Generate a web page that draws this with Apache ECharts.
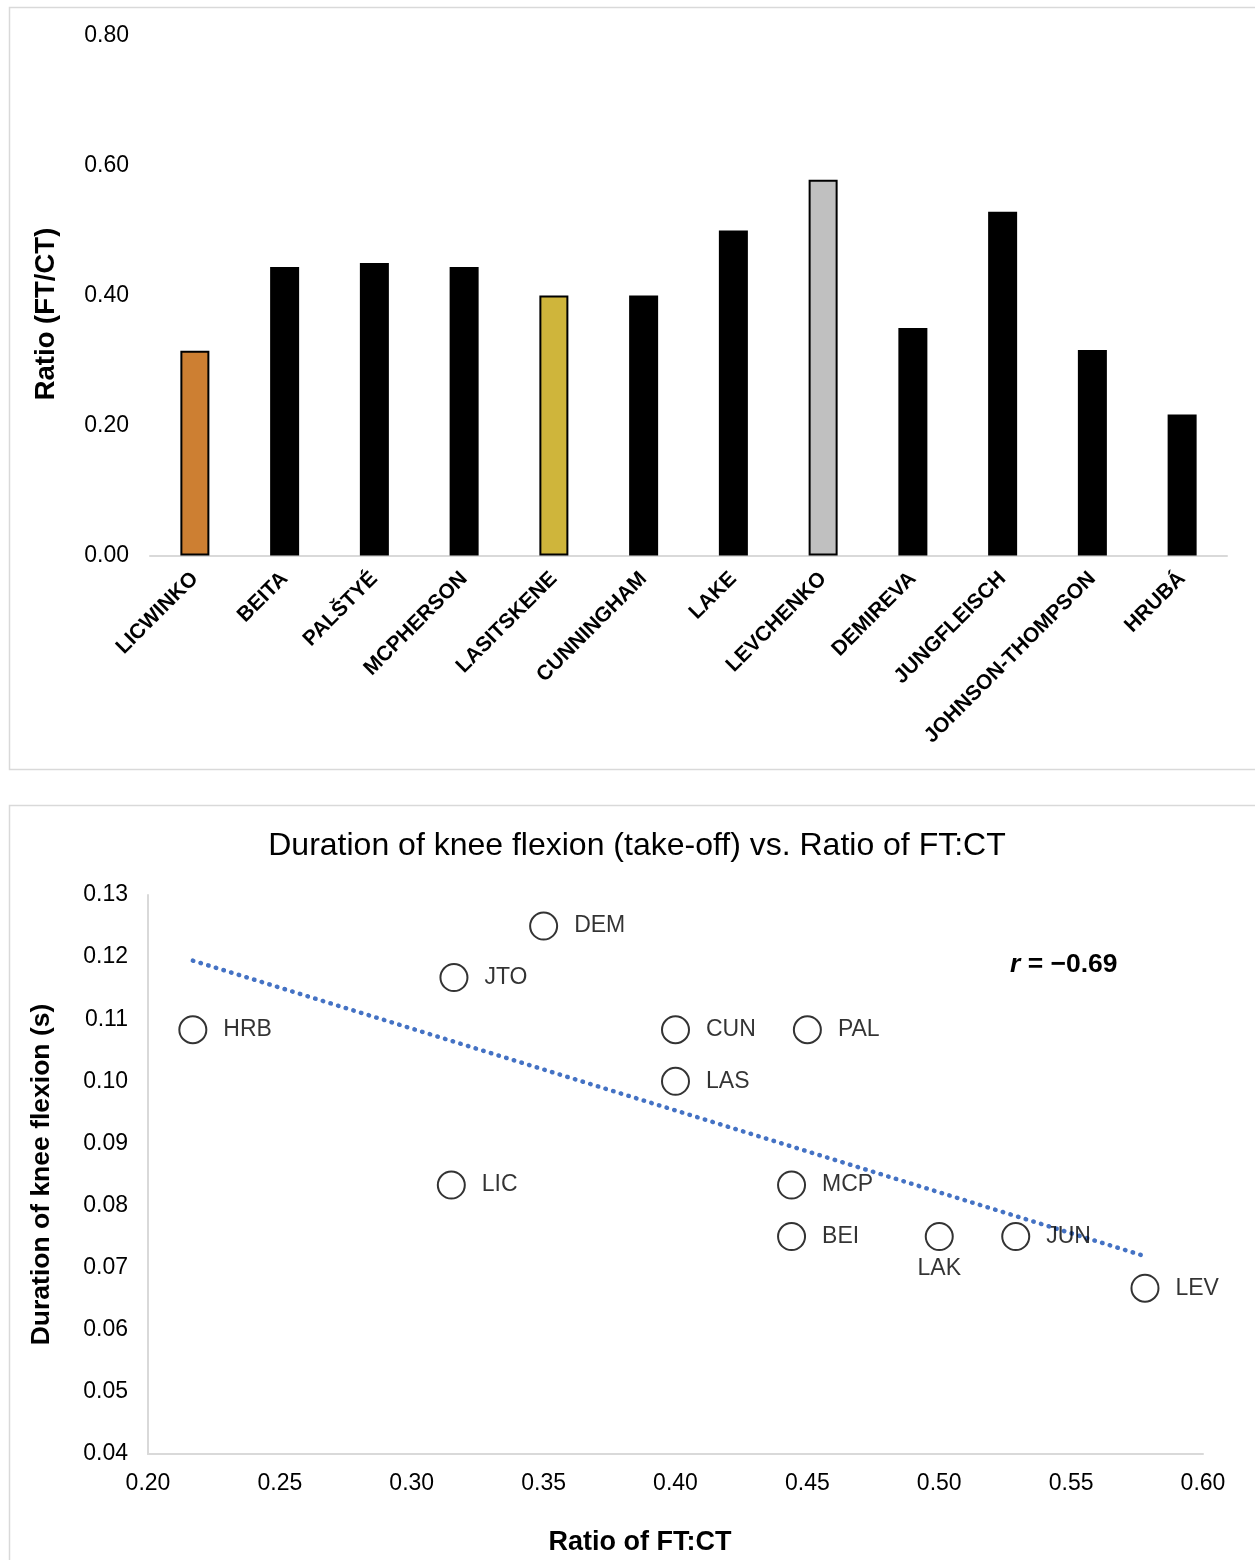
<!DOCTYPE html>
<html>
<head>
<meta charset="utf-8">
<script src="https://cdn.jsdelivr.net/npm/echarts@6/dist/echarts.min.js"></script>
<style>
  html, body { margin: 0; padding: 0; background: #fff; }
  #chart { width: 1255px; height: 1560px; }
</style>
</head>
<body>
<div id="chart"></div>
<script>
// Athletes (bar chart order) and their short codes (scatter labels)
var athletes = ['LICWINKO', 'BEITA', 'PALŠTYÉ', 'MCPHERSON', 'LASITSKENE', 'CUNNINGHAM',
                'LAKE', 'LEVCHENKO', 'DEMIREVA', 'JUNGFLEISCH', 'JOHNSON-THOMPSON', 'HRUBÁ'];
var codes = ['LIC', 'BEI', 'PAL', 'MCP', 'LAS', 'CUN', 'LAK', 'LEV', 'DEM', 'JUN', 'JTO', 'HRB'];

// Ratio of flight time to contact time (FT/CT)
var ratioFtCt = [0.315, 0.444, 0.450, 0.444, 0.400, 0.400, 0.500, 0.578, 0.350, 0.529, 0.316, 0.217];

// Duration of knee flexion during take-off (s)
var kneeFlexion = [0.0833, 0.0750, 0.1083, 0.0833, 0.1000, 0.1083, 0.0750, 0.0667, 0.1250, 0.0750, 0.1167, 0.1083];

// Medal bar colours (bronze, gold, silver); others black
var barColors = {
  'LICWINKO': '#CD7F32',
  'LASITSKENE': '#CFB53B',
  'LEVCHENKO': '#C0C0C0'
};

// Axis ticks
var ratioTicks = { min: 0, max: 0.8, interval: 0.2 };
var scatterX = { min: 0.2, max: 0.6, interval: 0.05 };
var scatterY = { min: 0.04, max: 0.13, interval: 0.01 };

// Least-squares trend line across the observed ratio range
function linearFit(xs, ys) {
  var n = xs.length, mx = 0, my = 0;
  for (var i = 0; i < n; i++) { mx += xs[i]; my += ys[i]; }
  mx /= n; my /= n;
  var sxy = 0, sxx = 0;
  for (var j = 0; j < n; j++) {
    sxy += (xs[j] - mx) * (ys[j] - my);
    sxx += (xs[j] - mx) * (xs[j] - mx);
  }
  var slope = sxy / sxx;
  return { slope: slope, intercept: my - slope * mx };
}
var fit = linearFit(ratioFtCt, kneeFlexion);
var xMin = Math.min.apply(null, ratioFtCt), xMax = Math.max.apply(null, ratioFtCt);
var trend = [[xMin, fit.intercept + fit.slope * xMin], [xMax, fit.intercept + fit.slope * xMax]];

var FONT = '"Liberation Sans", Arial, sans-serif';
var AXIS_GREY = '#d9d9d9';

var barData = athletes.map(function (name, i) {
  var c = barColors[name] || '#000000';
  return {
    value: ratioFtCt[i],
    itemStyle: { color: c, borderColor: '#000', borderWidth: 2 }
  };
});

var scatterData = codes.map(function (code, i) {
  var d = { value: [ratioFtCt[i], kneeFlexion[i]], name: code };
  if (code === 'LAK') {
    d.label = { position: 'bottom', distance: 6 };
  }
  return d;
});

var chart = echarts.init(document.getElementById('chart'), null, { renderer: 'canvas' });

chart.setOption({
  animation: false,
  backgroundColor: '#fff',
  textStyle: { fontFamily: FONT },
  title: [
    {
      text: 'Duration of knee flexion (take-off) vs. Ratio of FT:CT',
      left: 632, top: 825, textAlign: 'center',
      textStyle: { fontFamily: FONT, fontSize: 32, fontWeight: 'normal', color: '#000' }
    },
    {
      text: '{i|r} = −0.69',
      left: 1005, top: 946,
      textStyle: {
        fontFamily: FONT, fontSize: 26.5, fontWeight: 'bold', color: '#000',
        rich: { i: { fontFamily: FONT, fontSize: 26.5, fontWeight: 'bold', fontStyle: 'italic', color: '#000' } }
      }
    }
  ],
  graphic: [
    { type: 'rect', shape: { x: 9.5, y: 7.5, width: 1250, height: 762 },
      style: { fill: 'none', stroke: AXIS_GREY, lineWidth: 1.5 }, silent: true, z: -1 },
    { type: 'rect', shape: { x: 9.5, y: 805.5, width: 1250, height: 760 },
      style: { fill: 'none', stroke: AXIS_GREY, lineWidth: 1.5 }, silent: true, z: -1 },
    // Bar chart value-axis title
    { type: 'text', x: 46, y: 314, rotation: Math.PI / 2, silent: true,
      style: { text: 'Ratio (FT/CT)', fontFamily: FONT, fontSize: 27.5, fontWeight: 'bold',
               fill: '#000', align: 'center', verticalAlign: 'middle' } },
    // Scatter x-axis title
    { type: 'text', x: 640, y: 1543, silent: true,
      style: { text: 'Ratio of FT:CT', fontFamily: FONT, fontSize: 27, fontWeight: 'bold',
               fill: '#000', align: 'center', verticalAlign: 'middle' } }
  ],
  grid: [
    { left: 150, top: 35.5, width: 1077, height: 520 },
    { left: 148, top: 895, width: 1055, height: 559 }
  ],
  xAxis: [
    {
      gridIndex: 0, type: 'category', data: athletes,
      axisLine: { lineStyle: { color: AXIS_GREY, width: 2 } },
      axisTick: { show: false },
      axisLabel: {
        rotate: 45, margin: 20, interval: 0,
        fontFamily: FONT, fontSize: 21, fontWeight: 'bold', color: '#000'
      }
    },
    {
      gridIndex: 1, type: 'value',
      min: scatterX.min, max: scatterX.max, interval: scatterX.interval,
      axisLine: { lineStyle: { color: AXIS_GREY, width: 2 } },
      axisTick: { show: false },
      splitLine: { show: false },
      axisLabel: {
        margin: 18, fontFamily: FONT, fontSize: 23, color: '#000',
        formatter: function (v) { return v.toFixed(2); }
      }
    }
  ],
  yAxis: [
    {
      gridIndex: 0, type: 'value',
      min: ratioTicks.min, max: ratioTicks.max, interval: ratioTicks.interval,
      axisLine: { show: false },
      axisTick: { show: false },
      splitLine: { show: false },
      axisLabel: {
        margin: 21, fontFamily: FONT, fontSize: 23, color: '#000',
        formatter: function (v) { return v.toFixed(2); }
      }
    },
    {
      gridIndex: 1, type: 'value',
      min: scatterY.min, max: scatterY.max, interval: scatterY.interval,
      name: 'Duration of knee flexion (s)', nameLocation: 'middle', nameGap: 93, nameRotate: 90,
      nameTextStyle: { fontFamily: FONT, fontSize: 26.5, fontWeight: 'bold', color: '#000' },
      axisLine: { show: true, lineStyle: { color: AXIS_GREY, width: 2 } },
      axisTick: { show: false },
      splitLine: { show: false },
      axisLabel: {
        margin: 20, fontFamily: FONT, fontSize: 23, color: '#000',
        formatter: function (v) { return v.toFixed(2); }
      }
    }
  ],
  series: [
    {
      type: 'bar', xAxisIndex: 0, yAxisIndex: 0,
      data: barData, barWidth: 29
    },
    {
      type: 'line', xAxisIndex: 1, yAxisIndex: 1,
      data: trend, symbol: 'none', z: 1,
      lineStyle: { color: '#4472C4', width: 4.5, type: [0.5, 7.5], cap: 'round' }
    },
    {
      type: 'scatter', xAxisIndex: 1, yAxisIndex: 1, z: 3,
      data: scatterData,
      symbol: 'circle', symbolSize: 27,
      itemStyle: { color: '#fff', borderColor: '#000', borderWidth: 2 },
      label: {
        show: true, position: 'right', distance: 16,
        formatter: '{b}',
        fontFamily: FONT, fontSize: 23, color: '#000'
      }
    }
  ]
});
</script>
</body>
</html>
